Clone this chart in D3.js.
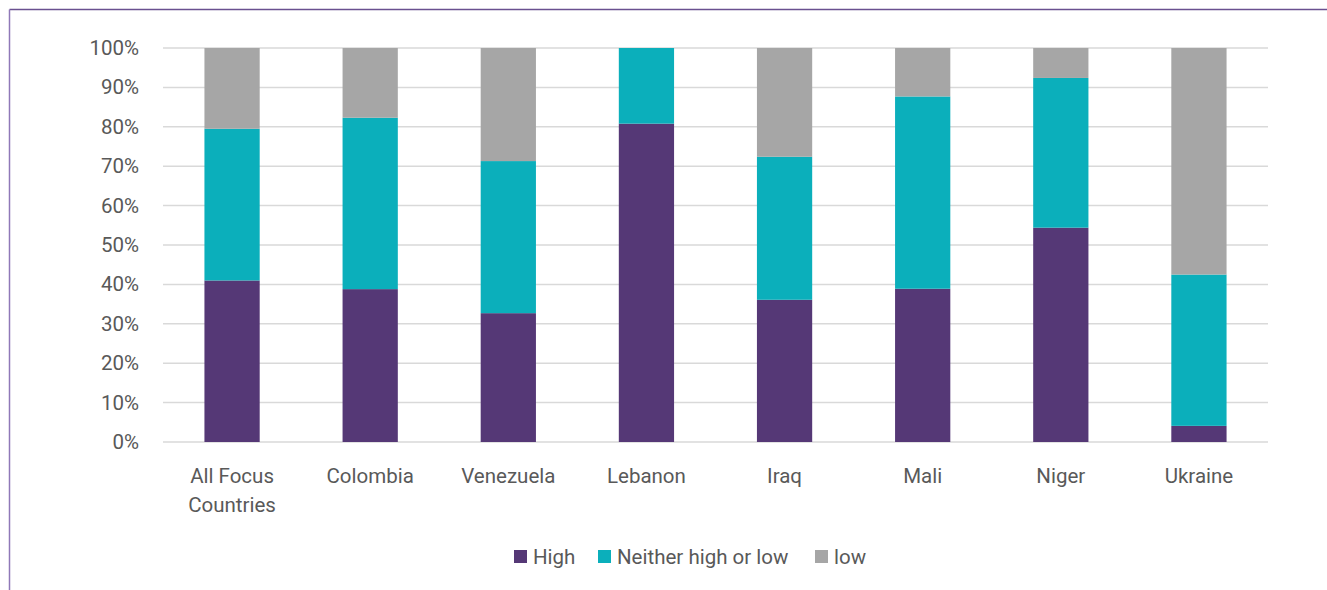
<!DOCTYPE html>
<html><head><meta charset="utf-8">
<script src="https://cdn.jsdelivr.net/npm/d3@7"></script>
<style>
body{margin:0;background:#fff;}
svg{display:block;}
text{font-family:"Roboto",sans-serif;fill:#595959;}
</style></head>
<body>
<svg id="chart" width="1327" height="590"></svg>
<script>
const categories = ["All Focus\nCountries","Colombia","Venezuela","Lebanon","Iraq","Mali","Niger","Ukraine"];
const seriesNames = ["High","Neither high or low","low"];
const high    = [41.0, 38.8, 32.7, 80.8, 36.1, 38.9, 54.4, 4.1];
const neither = [38.5, 43.5, 38.6, 19.2, 36.3, 48.8, 38.0, 38.4];
const low     = [20.5, 17.7, 28.7, 0.0, 27.6, 12.3, 7.6, 57.5];
const yTicks = [0,10,20,30,40,50,60,70,80,90,100];
const colors = ["#553876","#0bafbb","#a6a6a6"];

const svg = d3.select("#chart");
const margin = {left:163, right:59, top:48, bottom:148};
const W = 1327, H = 590;
const x = d3.scaleBand().domain(categories).range([margin.left, W-margin.right]).paddingInner(0.6).paddingOuter(0.3);
const y = d3.scaleLinear().domain([0,100]).range([H-margin.bottom, margin.top]);

// border
svg.append("line").attr("x1",9.5).attr("x2",W).attr("y1",9.5).attr("y2",9.5).attr("stroke","#6a5090").attr("stroke-width",1.5);
svg.append("line").attr("x1",9.5).attr("x2",9.5).attr("y1",9.5).attr("y2",H).attr("stroke","#8f78b8").attr("stroke-width",1.5);

// gridlines
svg.append("g").selectAll("line").data(yTicks).join("line")
  .attr("x1",margin.left).attr("x2",W-margin.right)
  .attr("y1",d=>y(d)).attr("y2",d=>y(d))
  .attr("stroke","#d9d9d9").attr("stroke-width",1.5);

// y axis labels
const yAxis = d3.axisLeft(y).tickValues(yTicks).tickFormat(d=>d+"%").tickSize(0).tickPadding(24);
const ga = svg.append("g").attr("transform",`translate(${margin.left},0)`).call(yAxis);
ga.select(".domain").remove();
ga.selectAll("text").style("font-size","20.5px").attr("fill","#595959").style("font-family",null);

// stacked bars
const rows = categories.map((c,i)=>({cat:c, High:high[i], "Neither high or low":neither[i], low:low[i]}));
const stack = d3.stack().keys(seriesNames)(rows);
svg.append("g").selectAll("g").data(stack).join("g").attr("fill",(d,i)=>colors[i])
  .selectAll("rect").data(d=>d).join("rect")
  .attr("x",d=>x(d.data.cat)).attr("width",x.bandwidth())
  .attr("y",d=>y(Math.min(100,d[1]))).attr("height",d=>Math.max(0,y(d[0])-y(Math.min(100,d[1]))));

// x labels
const xl = svg.append("g").selectAll("text").data(categories).join("text")
  .attr("x",d=>x(d)+x.bandwidth()/2).attr("y",483)
  .attr("text-anchor","middle").style("font-size","20.5px");
xl.each(function(d){
  const parts = d.split("\n");
  d3.select(this).selectAll("tspan").data(parts).join("tspan")
    .attr("x",x(d)+x.bandwidth()/2).attr("dy",(p,i)=>i===0?0:29).text(p=>p);
});

// legend
const legendX = [514, 598, 815];
const lg = svg.append("g").selectAll("g").data(seriesNames).join("g")
  .attr("transform",(d,i)=>`translate(${legendX[i]},550)`);
lg.append("rect").attr("width",13).attr("height",13).attr("fill",(d,i)=>colors[i]);
lg.append("text").attr("x",19).attr("y",14).style("font-size","20.5px").text(d=>d);
</script>
</body></html>
